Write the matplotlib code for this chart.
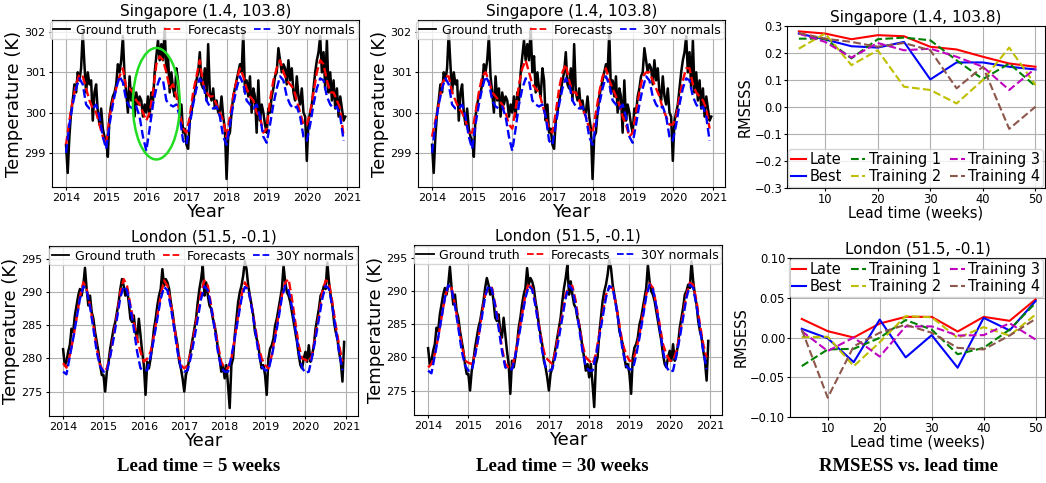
import numpy as np
import matplotlib
matplotlib.use('Agg')
import matplotlib.pyplot as plt
from matplotlib.patches import Ellipse

# ---- data ----
years = [2014, 2015, 2016, 2017, 2018, 2019, 2020, 2021]

# Singapore, ground truth, two samples per month
sg_truth = [
    299.2, 298.5, 299.4, 300.0, 300.3, 300.7, 300.5, 301.0, 300.8, 301.1, 302.0, 301.2,
    300.5, 301.0, 300.7, 300.8, 299.8, 300.5, 300.7, 300.0, 299.7, 300.1, 299.6, 299.4,
    299.3, 298.9, 299.9, 300.2, 300.4, 300.5, 300.7, 301.2, 301.0, 301.3, 301.9, 300.9,
    300.5, 300.0, 300.9, 300.3, 300.6, 299.9, 300.5, 300.2, 300.4, 300.3, 299.9, 300.2,
    300.0, 300.4, 299.9, 300.5, 300.3, 301.0, 301.4, 301.8, 301.3, 301.7, 301.3, 302.1,
    301.0, 301.4, 300.5, 301.0, 300.6, 300.4, 301.1, 300.8, 299.8, 300.2, 299.5, 299.6,
    299.2, 299.1, 299.8, 300.0, 300.3, 300.5, 300.8, 301.0, 301.5, 300.7, 300.6, 301.1,
    300.3, 301.7, 300.5, 300.3, 300.6, 300.1, 300.3, 300.0, 300.0, 300.4, 299.9, 299.6,
    298.35, 299.4, 299.5, 300.0, 300.4, 300.6, 300.8, 301.0, 301.2, 301.0, 302.0, 300.5,
    300.8, 300.4, 300.9, 300.0, 300.6, 300.4, 299.5, 300.8, 299.8, 300.2, 300.0, 299.7,
    299.5, 300.1, 300.0, 300.4, 300.6, 300.9, 301.0, 301.6, 301.3, 301.0, 301.2, 301.1,
    300.7, 301.3, 300.8, 301.1, 300.5, 300.3, 300.9, 300.4, 300.2, 300.6, 300.0, 299.9,
    298.8, 299.8, 300.0, 300.2, 300.6, 301.0, 301.3, 301.5, 301.9, 301.0, 301.5, 300.6,
    301.8, 300.5, 301.0, 300.3, 300.8, 300.1, 300.6, 299.9, 300.4, 300.1, 299.8, 299.9,
]
# Singapore, monthly
sg_normals = [
    299.0, 299.7, 300.2, 300.6, 300.85, 300.7, 300.2, 300.1, 300.1, 300.2, 299.9, 299.4,
    299.1, 299.7, 300.2, 300.6, 300.9, 300.75, 300.3, 300.15, 300.1, 300.15, 299.9, 299.4,
    299.05, 299.6, 300.2, 300.6, 300.85, 300.8, 300.3, 300.2, 300.15, 300.2, 299.9, 299.3,
    299.2, 299.7, 300.2, 300.6, 300.85, 300.7, 300.3, 300.15, 300.1, 300.15, 299.9, 299.4,
    299.2, 299.7, 300.2, 300.6, 300.9, 300.7, 300.3, 300.2, 300.1, 300.2, 299.9, 299.4,
    299.25, 299.7, 300.2, 300.6, 300.9, 300.8, 300.4, 300.2, 300.1, 300.15, 299.9, 299.4,
    299.3, 299.7, 300.2, 300.6, 300.85, 300.8, 300.4, 300.2, 300.1, 300.15, 299.9, 299.3,
]
sg_fc5 = [
    299.2, 299.8, 300.3, 300.7, 300.95, 300.9, 300.6, 300.3, 300.1, 300.0, 299.7, 299.4,
    299.2, 299.9, 300.3, 300.6, 300.9, 301.1, 300.6, 300.6, 300.5, 300.3, 300.2, 300.0,
    299.8, 300.0, 300.5, 301.2, 301.4, 301.3, 301.0, 300.6, 300.7, 300.4, 300.0, 299.6,
    299.5, 299.9, 300.5, 300.9, 301.3, 300.7, 300.5, 300.4, 300.4, 300.2, 300.0, 299.8,
    299.4, 299.9, 300.4, 300.8, 301.1, 300.9, 300.6, 300.4, 300.3, 300.0, 299.9, 299.5,
    299.6, 300.3, 300.8, 301.1, 301.3, 301.0, 300.8, 300.7, 300.6, 300.3, 300.0, 299.7,
    299.7, 300.0, 300.5, 301.0, 301.3, 301.2, 300.8, 300.5, 300.5, 300.3, 300.1, 299.4,
]
sg_fc30 = [
    299.4, 299.8, 300.2, 300.7, 300.9, 300.9, 300.5, 300.3, 300.1, 300.0, 299.8, 299.5,
    299.5, 300.0, 300.5, 300.9, 301.0, 300.8, 300.5, 300.4, 300.3, 300.2, 300.0, 299.7,
    299.6, 300.1, 300.7, 301.1, 301.3, 301.0, 300.7, 300.6, 300.5, 300.2, 299.9, 299.6,
    299.5, 300.0, 300.6, 301.0, 301.2, 300.8, 300.5, 300.5, 300.3, 300.1, 299.9, 299.6,
    299.5, 300.0, 300.5, 300.9, 301.1, 300.8, 300.6, 300.4, 300.2, 299.9, 299.7, 299.4,
    299.5, 300.0, 300.5, 300.9, 301.0, 301.0, 300.8, 300.6, 300.4, 300.1, 299.9, 299.7,
    299.7, 299.9, 300.4, 300.8, 301.1, 301.1, 300.7, 300.5, 300.4, 300.3, 300.1, 299.6,
]

# London, ground truth, two samples per month
ldn_truth = [
    281.4, 279.0, 279.5, 281.0, 282.0, 284.5, 284.0, 286.5, 288.0, 289.5, 290.5, 289.5,
    291.0, 293.7, 290.5, 288.0, 289.5, 287.0, 286.0, 284.0, 282.5, 281.0, 279.0, 277.5,
    277.5, 275.0, 278.0, 279.5, 281.5, 283.0, 284.5, 285.5, 287.0, 288.5, 290.5, 292.0,
    291.0, 289.5, 290.5, 288.5, 286.0, 285.5, 286.5, 284.0, 283.0, 286.0, 283.5, 281.0,
    279.0, 274.5, 279.5, 278.5, 280.0, 282.0, 284.5, 286.0, 288.0, 289.5, 290.5, 293.5,
    291.0, 292.0, 291.5, 290.5, 288.5, 287.0, 285.0, 283.5, 282.0, 279.5, 278.5, 277.0,
    275.0, 277.5, 278.5, 280.0, 281.5, 283.0, 284.5, 286.0, 288.5, 290.5, 292.0, 294.0,
    289.5, 291.5, 289.5, 288.0, 287.5, 286.0, 285.0, 283.5, 281.5, 280.0, 278.0, 279.0,
    277.0, 279.0, 276.0, 272.5, 279.0, 280.0, 283.5, 286.0, 288.5, 290.0, 291.0, 292.5,
    294.7, 293.5, 291.0, 289.5, 288.0, 286.5, 284.0, 283.0, 282.0, 280.0, 278.5, 279.0,
    277.5, 274.5, 280.0, 281.5, 282.0, 283.0, 285.0, 286.0, 287.5, 289.0, 290.5, 294.0,
    291.5, 290.0, 289.5, 288.5, 287.0, 285.5, 284.0, 282.5, 280.5, 279.0, 278.5, 280.0,
    281.0, 279.5, 282.0, 279.5, 280.5, 282.0, 284.5, 286.0, 287.5, 289.5, 290.0, 291.0,
    290.5, 294.5, 291.5, 289.5, 288.0, 285.5, 284.0, 283.0, 281.0, 279.5, 276.5, 282.5,
]
# London, monthly
ldn_normals = [
    278.0, 277.6, 280.3, 283.0, 286.0, 289.0, 290.9, 290.3, 287.8, 284.5, 281.0, 278.8,
    278.0, 278.0, 280.3, 283.0, 286.0, 289.2, 290.9, 290.3, 287.8, 284.5, 281.0, 278.5,
    278.2, 278.2, 280.3, 283.0, 286.0, 289.0, 290.8, 290.3, 287.8, 284.5, 281.0, 278.6,
    278.0, 278.2, 280.3, 283.0, 286.0, 289.0, 290.9, 290.3, 287.8, 284.5, 281.0, 278.6,
    278.0, 278.0, 280.3, 283.0, 286.0, 289.0, 290.8, 290.5, 287.8, 284.5, 281.0, 278.8,
    278.2, 278.2, 280.3, 283.0, 286.0, 289.2, 291.0, 290.3, 287.8, 284.5, 281.0, 278.6,
    277.8, 278.0, 280.3, 283.0, 286.0, 289.0, 291.0, 290.5, 287.8, 284.5, 281.0, 278.2,
]
ldn_fc5 = [
    279.3, 278.6, 280.5, 283.0, 286.0, 289.3, 291.5, 290.5, 288.0, 285.0, 281.5, 279.0,
    278.0, 278.5, 280.5, 283.5, 286.5, 290.0, 292.0, 291.0, 288.0, 285.5, 283.0, 281.0,
    279.5, 280.0, 281.0, 283.5, 286.5, 289.5, 291.8, 291.0, 288.5, 285.0, 281.5, 279.0,
    278.5, 279.0, 281.0, 284.0, 287.0, 290.0, 291.8, 291.0, 288.0, 285.0, 282.0, 279.5,
    278.5, 278.5, 280.0, 283.0, 286.5, 289.5, 291.5, 290.5, 288.0, 285.0, 282.0, 280.0,
    279.0, 278.5, 280.5, 283.5, 286.5, 289.5, 291.5, 292.0, 289.0, 285.5, 282.0, 280.0,
    279.8, 279.5, 280.5, 283.5, 286.5, 290.0, 291.8, 291.5, 288.5, 285.0, 282.0, 279.5,
]
ldn_fc30 = [
    278.5, 279.0, 280.5, 283.0, 286.0, 289.0, 290.8, 290.5, 288.0, 285.0, 282.0, 279.5,
    279.2, 279.0, 280.5, 283.0, 286.5, 289.5, 290.5, 290.5, 288.0, 285.0, 281.5, 279.0,
    278.5, 278.5, 280.5, 283.5, 286.5, 289.5, 291.2, 290.5, 288.0, 285.0, 282.0, 280.0,
    279.5, 279.0, 281.0, 284.0, 286.5, 289.5, 290.8, 290.8, 288.5, 285.0, 282.0, 280.0,
    279.5, 279.0, 280.5, 283.5, 286.5, 289.5, 290.6, 290.5, 288.0, 285.0, 282.0, 280.5,
    279.5, 279.5, 281.0, 283.5, 286.5, 289.5, 291.2, 290.5, 288.0, 285.0, 282.0, 280.5,
    279.5, 279.5, 281.0, 283.5, 286.5, 289.5, 291.3, 291.0, 288.5, 285.0, 282.0, 280.0,
]

# RMSESS vs lead time
lead_weeks = [5, 10, 15, 20, 25, 30, 35, 40, 45, 50]
sg_skill = {
    'Late':       [0.280, 0.272, 0.251, 0.266, 0.262, 0.223, 0.213, 0.186, 0.161, 0.149],
    'Best':       [0.272, 0.250, 0.225, 0.220, 0.241, 0.102, 0.165, 0.165, 0.149, 0.139],
    'Training 1': [0.253, 0.253, 0.180, 0.251, 0.257, 0.247, 0.173, 0.103, 0.161, 0.077],
    'Training 2': [0.216, 0.272, 0.155, 0.210, 0.075, 0.063, 0.013, 0.100, 0.220, 0.081],
    'Training 3': [0.272, 0.241, 0.183, 0.237, 0.210, 0.216, 0.186, 0.149, 0.063, 0.143],
    'Training 4': [0.274, 0.253, 0.241, 0.223, 0.237, 0.210, 0.069, 0.149, -0.081, 0.001],
}
ldn_skill = {
    'Late':       [0.0234, 0.008, 0.000, 0.0176, 0.026, 0.026, 0.0075, 0.026, 0.021, 0.048],
    'Best':       [0.011, -0.001, -0.031, 0.0226, -0.025, 0.003, -0.038, 0.0247, 0.009, 0.046],
    'Training 1': [-0.036, -0.015, -0.0142, -0.0004, 0.022, 0.010, -0.021, -0.013, 0.010, 0.0435],
    'Training 2': [0.0004, 0.001, -0.036, -0.006, 0.027, 0.0255, -0.0004, 0.013, 0.0025, 0.029],
    'Training 3': [0.008, -0.017, 0.000, -0.024, 0.014, 0.014, 0.0025, 0.003, 0.018, -0.0025],
    'Training 4': [0.010, -0.0757, -0.011, 0.006, 0.016, 0.006, -0.013, -0.015, 0.0025, 0.0234],
}
skill_styles = {
    'Late': ('r', '-'), 'Best': ('b', '-'),
    'Training 1': ('g', '--'), 'Training 2': ('y', '--'),
    'Training 3': ('m', '--'), 'Training 4': ('tab:brown', '--'),
}

t_week = 2014 + np.arange(len(sg_truth)) / 24.0
t_month = 2014 + np.arange(len(sg_normals)) / 12.0

fig = plt.figure(figsize=(10.46, 4.83), dpi=100)


def ts_panel(rect, title, truth, fc, normals, ylim):
    ax = fig.add_axes(rect)
    ax.plot(t_week, truth, color='k', lw=1.8, label='Ground truth')
    ax.plot(t_month, fc, color='r', ls='--', lw=1.7, label='Forecasts')
    ax.plot(t_month, normals, color='b', ls='--', lw=1.7, label='30Y normals')
    ax.set_xlim(2013.65, 2021.3)
    ax.set_ylim(*ylim)
    ax.set_xticks(years)
    ax.tick_params(labelsize=8, length=2.5, pad=2)
    ax.grid(True, color='#b0b0b0', lw=0.8)
    ax.set_title(title, fontsize=11, pad=3)
    ax.set_xlabel('Year', fontsize=13, labelpad=0)
    ax.set_ylabel('Temperature (K)', fontsize=13, labelpad=1)
    leg = ax.legend(loc='upper right', ncol=3, fontsize=9, handlelength=1.4,
                    columnspacing=0.6, handletextpad=0.45, borderaxespad=0.1,
                    borderpad=0.2, framealpha=0.8)
    for ln in leg.get_lines():
        ln.set_linewidth(1.3)
    return ax


def skill_panel(rect, title, skill, ylim, loc):
    ax = fig.add_axes(rect)
    for name, vals in skill.items():
        c, ls = skill_styles[name]
        ax.plot(lead_weeks, vals, color=c, ls=ls, lw=1.5, label=name)
    ax.set_xlim(2.75, 51.8)
    ax.set_ylim(*ylim)
    ax.tick_params(labelsize=8.3, length=2, pad=1.5)
    ax.grid(True, color='#b0b0b0', lw=0.8)
    ax.set_title(title, fontsize=11, pad=3)
    ax.set_xlabel('Lead time (weeks)', fontsize=10.5, labelpad=0)
    ax.set_ylabel('RMSESS', fontsize=10.5, labelpad=1)
    ax.legend(loc=loc, ncol=3, fontsize=10.5, handlelength=1.0,
              columnspacing=0.6, handletextpad=0.25, labelspacing=0.1,
              borderaxespad=0.1, borderpad=0.2, framealpha=0.8)
    return ax


sg_ylim = (298.15, 302.3)
ldn_ylim = (271.3, 297.0)

ax1 = ts_panel([0.0497, 0.6128, 0.2935, 0.3458], 'Singapore (1.4, 103.8)',
               sg_truth, sg_fc5, sg_normals, sg_ylim)
ax1.add_patch(Ellipse((2016.25, 300.22), 1.17, 2.77, fill=False,
                      edgecolor='#22dd22', lw=1.8, zorder=5))
ts_panel([0.3996, 0.6128, 0.2935, 0.3458], 'Singapore (1.4, 103.8)',
         sg_truth, sg_fc30, sg_normals, sg_ylim)
ts_panel([0.0468, 0.1387, 0.2954, 0.352], 'London (51.5, -0.1)',
         ldn_truth, ldn_fc5, ldn_normals, ldn_ylim)
ts_panel([0.3958, 0.1408, 0.2945, 0.352], 'London (51.5, -0.1)',
         ldn_truth, ldn_fc30, ldn_normals, ldn_ylim)

skill_panel([0.7524, 0.6108, 0.2466, 0.3354], 'Singapore (1.4, 103.8)',
            sg_skill, (-0.3, 0.3), 'lower left')
skill_panel([0.7553, 0.1366, 0.2437, 0.3292], 'London (51.5, -0.1)',
            ldn_skill, (-0.1, 0.1), 'upper right')

cap = dict(fontsize=13.5, fontweight='bold', family='Liberation Serif',
           ha='center', va='center')
fig.text(0.190, 0.035, 'Lead time = 5 weeks', **cap)
fig.text(0.538, 0.035, 'Lead time = 30 weeks', **cap)
fig.text(0.869, 0.035, 'RMSESS vs. lead time', **cap)

fig.savefig('out.png', dpi=100)
